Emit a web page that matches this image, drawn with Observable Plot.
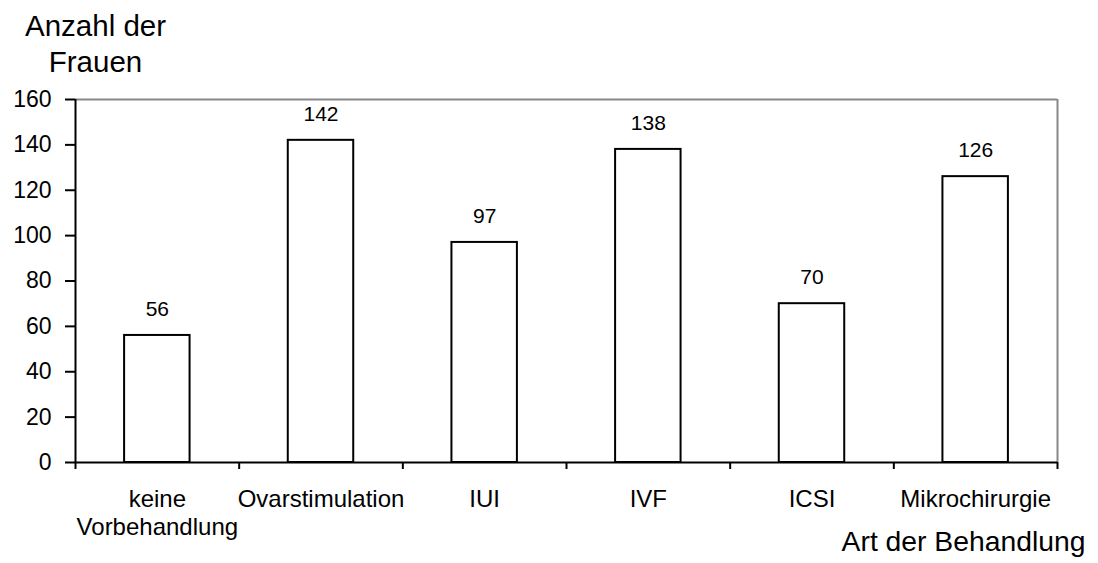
<!DOCTYPE html>
<html><head><meta charset="utf-8">
<script src="https://cdn.jsdelivr.net/npm/d3@7"></script>
<script src="https://cdn.jsdelivr.net/npm/@observablehq/plot@0.6"></script>
<style>body{margin:0;background:#fff;}</style>
</head><body><div id="chart"></div>
<script>
const categories = ["keine\nVorbehandlung", "Ovarstimulation", "IUI", "IVF", "ICSI", "Mikrochirurgie"];
const values = [56, 142, 97, 138, 70, 126];
const yTicks = [0, 20, 40, 60, 80, 100, 120, 140, 160];
const yTitle = "Anzahl der\nFrauen";
const xTitle = "Art der Behandlung";

const data = categories.map((c, i) => ({c, i, v: values[i]}));
const boundaries = d3.range(categories.length + 1);

const chart = Plot.plot({
  width: 1098, height: 563,
  marginLeft: 75, marginRight: 41, marginTop: 99, marginBottom: 101,
  style: {fontFamily: "'Liberation Sans', Arial, sans-serif", background: "#fff", color: "#000"},
  x: {domain: [0, categories.length], axis: null},
  y: {domain: [0, 160], axis: null},
  marks: [
    Plot.ruleY([160], {stroke: "#888", strokeWidth: 2}),
    Plot.ruleX([categories.length], {stroke: "#888", strokeWidth: 2}),
    Plot.rectY(data, {x1: d => d.i + 0.3, x2: d => d.i + 0.7, y1: 0, y2: "v", fill: "white", stroke: "black", strokeWidth: 2}),
    Plot.ruleX([0], {stroke: "black", strokeWidth: 2}),
    Plot.ruleY([0], {stroke: "black", strokeWidth: 2}),
    Plot.axisY({ticks: yTicks, tickSize: 10, tickPadding: 14, fontSize: 23, strokeWidth: 2, label: null}),
    Plot.axisX({ticks: boundaries, tickFormat: () => "", tickSize: 7, strokeWidth: 2, label: null}),
    Plot.text(data, {x: d => d.i + 0.5, y: 0, text: "c", lineAnchor: "top", dy: 24, fontSize: 24, lineHeight: 1.18}),
    Plot.text(data, {x: d => d.i + 0.5, y: "v", text: d => String(d.v), dy: -26, fontSize: 21}),
    Plot.text([yTitle], {text: d => d, frameAnchor: "top-left", lineAnchor: "middle", dx: 20, dy: -57, fontSize: 29.5, lineHeight: 1.22, textAnchor: "middle"}),
    Plot.text([xTitle], {text: d => d, frameAnchor: "bottom-right", lineAnchor: "middle", dx: -94, dy: 79, fontSize: 28.3, textAnchor: "middle"})
  ]
});
document.getElementById("chart").appendChild(chart);
</script>
</body></html>
